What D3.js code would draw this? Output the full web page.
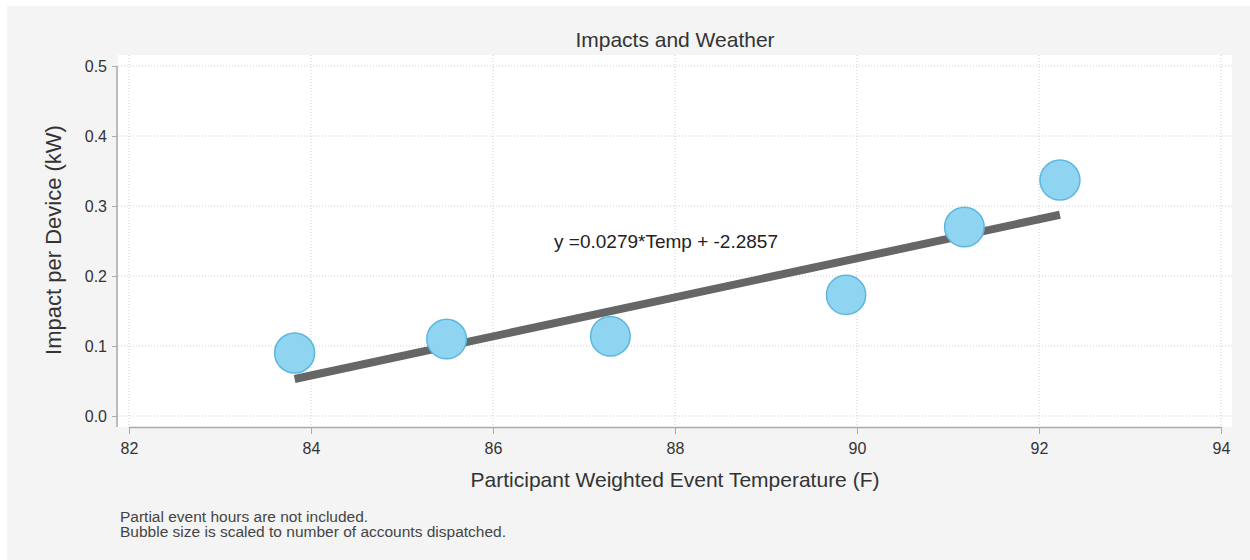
<!DOCTYPE html>
<html>
<head>
<meta charset="utf-8">
<script src="https://cdn.jsdelivr.net/npm/d3@7"></script>
<style>
  body { margin: 0; background: #fff; }
  text { font-family: "Liberation Sans", Arial, sans-serif; }
</style>
</head>
<body>
<svg id="chart" width="1250" height="560"></svg>
<script>
// event temperatures (F) and impact per device (kW)
const temps = [83.82, 85.49, 87.29, 89.88, 91.18, 92.23]
const impacts = [0.090, 0.110, 0.114, 0.173, 0.270, 0.337]
// relative bubble sizes (accounts dispatched)
const accounts = [1.00, 0.98, 0.98, 0.96, 0.98, 1.00]

const slope = 0.0279
const intercept = -2.2857
const xTicks = [82, 84, 86, 88, 90, 92, 94]
const yTicks = [0.0, 0.1, 0.2, 0.3, 0.4, 0.5]
const notes = ['Partial event hours are not included.', 'Bubble size is scaled to number of accounts dispatched.']

const svg = d3.select('#chart')

svg.append('rect')
  .attr('x', 7).attr('y', 6)
  .attr('width', 1243).attr('height', 554)
  .attr('fill', '#f4f4f4')

const x = d3.scaleLinear().domain([82, 94]).range([129, 1221])
const y = d3.scaleLinear().domain([0, 0.5]).range([416, 66])
const r = d3.scaleSqrt().domain([0, 1]).range([0, 20])

// plot background
svg.append('rect')
  .attr('x', 118).attr('y', 55)
  .attr('width', 1114).attr('height', 372)
  .attr('fill', '#fff')

// grid
svg.append('g')
  .selectAll('line')
  .data(yTicks)
  .join('line')
  .attr('x1', 118).attr('x2', 1232)
  .attr('y1', d => y(d)).attr('y2', d => y(d))
  .attr('stroke', '#cfcfcf')
  .attr('stroke-dasharray', '1,2')

svg.append('g')
  .selectAll('line')
  .data(xTicks)
  .join('line')
  .attr('x1', d => x(d)).attr('x2', d => x(d))
  .attr('y1', 55).attr('y2', 427)
  .attr('stroke', '#cfcfcf')
  .attr('stroke-dasharray', '1,2')

// axes
const yAxis = svg.append('g')
  .attr('transform', 'translate(117,0)')
  .call(d3.axisLeft(y).tickValues(yTicks).tickFormat(d3.format('.1f')).tickSize(5).tickSizeOuter(0))
yAxis.select('.domain').attr('stroke', '#aaa').attr('stroke-width', 1.5)
  .attr('d', `M0,${y(0.5)}V427`)
yAxis.selectAll('.tick line').attr('stroke', '#aaa')
yAxis.selectAll('.tick text')
  .attr('font-size', 16).attr('fill', '#333').attr('x', -10)
  .attr('font-family', '"Liberation Sans", Arial, sans-serif')

const xAxis = svg.append('g')
  .attr('transform', 'translate(0,427)')
  .call(d3.axisBottom(x).tickValues(xTicks).tickSize(7).tickSizeOuter(0))
xAxis.select('.domain').attr('stroke', '#aaa').attr('stroke-width', 1.5)
xAxis.selectAll('.tick line').attr('stroke', '#aaa')
xAxis.selectAll('.tick text')
  .attr('font-size', 16).attr('fill', '#333').attr('dy', '1.05em')
  .attr('font-family', '"Liberation Sans", Arial, sans-serif')

// regression line
const fit = d3.line()
  .x(d => x(d))
  .y(d => y(slope * d + intercept))

svg.append('path')
  .datum(d3.extent(temps))
  .attr('d', fit)
  .attr('fill', 'none')
  .attr('stroke', '#666')
  .attr('stroke-width', 8)

// bubbles
svg.append('g')
  .selectAll('circle')
  .data(temps)
  .join('circle')
  .attr('cx', d => x(d))
  .attr('cy', (d, i) => y(impacts[i]))
  .attr('r', (d, i) => r(accounts[i]))
  .attr('fill', '#8fd4f1')
  .attr('stroke', '#5cb6de')
  .attr('stroke-width', 1.5)

svg.append('text')
  .attr('x', 666).attr('y', 248)
  .attr('text-anchor', 'middle')
  .attr('font-size', 19).attr('fill', '#222')
  .text(`y =${slope}*Temp + ${intercept}`)

// titles
svg.append('text')
  .attr('x', 675).attr('y', 47)
  .attr('text-anchor', 'middle')
  .attr('font-size', 21).attr('fill', '#333')
  .text('Impacts and Weather')

svg.append('text')
  .attr('x', 675).attr('y', 487)
  .attr('text-anchor', 'middle')
  .attr('font-size', 21).attr('fill', '#333')
  .text('Participant Weighted Event Temperature (F)')

svg.append('text')
  .attr('transform', 'translate(61,240) rotate(-90)')
  .attr('text-anchor', 'middle')
  .attr('font-size', 22).attr('fill', '#333')
  .text('Impact per Device (kW)')

svg.append('g')
  .selectAll('text')
  .data(notes)
  .join('text')
  .attr('x', 120)
  .attr('y', (d, i) => 522 + i * 15)
  .attr('font-size', 15.5).attr('fill', '#444')
  .text(d => d)
</script>
</body>
</html>
